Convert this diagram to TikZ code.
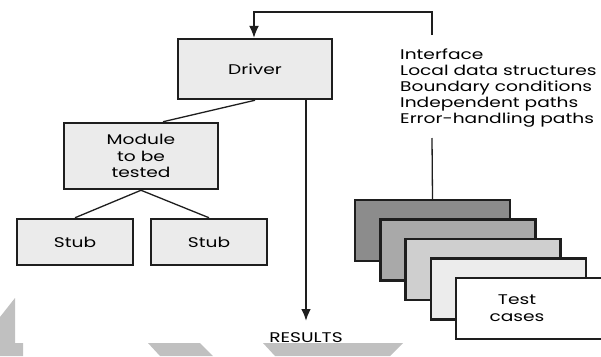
\documentclass[tikz,border=0pt]{standalone}
\usepackage{fontspec}
\setmainfont{Poppins}[FakeStretch=1.33]
\usetikzlibrary{arrows.meta,calc}
\definecolor{inkline}{HTML}{1E1E1E}
\definecolor{boxgrey}{HTML}{EBEBEB}
\definecolor{stackA}{HTML}{8C8C8C}
\definecolor{stackB}{HTML}{A9A9A9}
\definecolor{stackC}{HTML}{CFCFCF}
\definecolor{stackD}{HTML}{ECECEC}
\definecolor{markgrey}{HTML}{C0C0C0}
\tikzset{
  labelfont/.style={font=\fontsize{14}{16.5}\selectfont},
  unitbox/.style={draw=inkline, line width=2.5pt, fill=boxgrey, inner sep=0pt,
    align=center, labelfont},
  casebox/.style={draw=inkline, line width=2.5pt, minimum width=155pt,
    minimum height=61pt, inner sep=0pt},
  link/.style={draw=inkline, line width=1.3pt},
  tip/.style={-{Latex[length=12pt,width=10pt]}},
}
\begin{document}
\begin{tikzpicture}[x=1pt,y=-1pt]
\clip (0,0) rectangle (601,356);
\fill[white] (0,0) rectangle (601,356);

% light grey shapes along the bottom edge
\fill[markgrey] (0,317) -- (15,298) -- (15,343) -- (23,343) -- (23,356) -- (0,356) -- cycle;
\fill[markgrey] (148,343) -- (200,343) -- (213,356) -- (160,356) -- cycle;
\fill[markgrey] (263,343) -- (403,343) -- (390,356) -- (275,356) -- cycle;

% unit under test and its scaffolding
\node[unitbox, minimum width=154pt, minimum height=60pt] (driver) at (255,69) {Driver};
\node[unitbox, minimum width=154pt, minimum height=66pt] (module) at (141,156) {Module\\to be\\tested};
\node[unitbox, minimum width=116pt, minimum height=46pt] (stubL) at (75,242) {Stub};
\node[unitbox, minimum width=116pt, minimum height=46pt] (stubR) at (209,242) {Stub};

\draw[link] (driver.south) -- ([xshift=22pt]module.north);
\draw[link] (module.south) -- (stubL.north);
\draw[link] (module.south) -- (stubR.north);

% results
\node[labelfont, inner sep=0pt] (results) at (306,338) {RESULTS};
\coordinate (resfoot) at (306,321);
\draw[inkline, line width=2.4pt, tip] (driver.south -| resfoot) -- (resfoot);

% stack of test cases
\node[casebox, fill=stackA] (caseA) at (432.5,230.5) {};
\node[casebox, fill=stackB] (caseB) at (457.8,250) {};
\node[casebox, fill=stackC] (caseC) at (483.1,269.5) {};
\node[casebox, fill=stackD] (caseD) at (508.4,289) {};
\node[casebox, fill=white] (caseE) at (533.7,308.5) {};
\node[labelfont, align=center, inner sep=0pt] (casetext) at (517,308) {Test\\cases};

% what the test cases exercise
\node[font=\fontsize{14}{16}\selectfont, align=left, anchor=north west, inner sep=0pt] (aspects) at (400,48.5)
  {Interface\\Local data structures\\Boundary conditions\\Independent paths\\Error-handling paths};
\coordinate (aspecttop) at (432,35);
\coordinate (aspectbot) at (432,138);
\coordinate (bend) at (254,12);
\draw[link] (caseA.north) -- (aspectbot);
\draw[link, tip] (aspecttop) |- (bend) -- (driver.north -| bend);
\end{tikzpicture}
\end{document}
